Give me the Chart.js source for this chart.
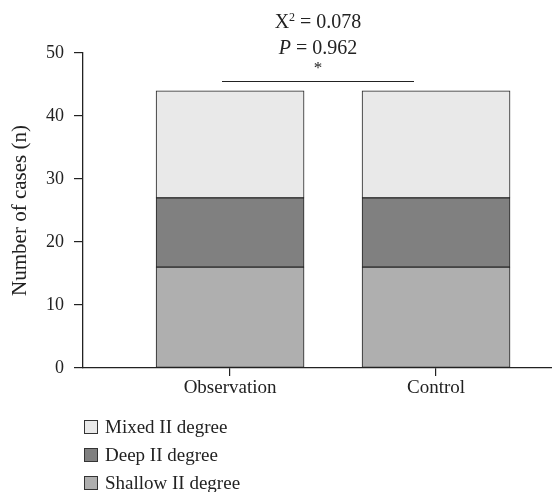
<!DOCTYPE html>
<html>
<head>
<meta charset="utf-8">
<script src="https://cdn.jsdelivr.net/npm/chart.js@4/dist/chart.umd.min.js"></script>
<style>
  body { margin: 0; background: #fff; }
  #wrap { position: relative; width: 552px; height: 492px; }
  #legend { position: absolute; left: 84px; top: 413px; font-family: "Liberation Serif", "DejaVu Serif", serif; font-size: 19px; color: #222; }
  .item { height: 28px; line-height: 28px; white-space: nowrap; }
  .box { display: inline-block; width: 12px; height: 12px; border: 1px solid #333; margin-right: 7px; vertical-align: -1px; }
</style>
</head>
<body>
<div id="wrap">
  <canvas id="myChart" width="552" height="492"></canvas>
  <div id="legend"></div>
</div>
<script>
// data
var groups = ['Observation', 'Control'];
var groupPos = [1, 2];
var shallow = [16, 16];
var deep = [11, 11];
var mixed = [17, 17];
var seriesNames = ['Shallow II degree', 'Deep II degree', 'Mixed II degree'];
var seriesColors = ['#afafaf', '#808080', '#e9e9e9'];
var yTicks = [0, 10, 20, 30, 40, 50];
var statLines = ['0.078', '0.962'];

var serif = '"Liberation Serif", "DejaVu Serif", serif';

function pts(vals) {
    return vals.map(function (v, i) { return { x: groupPos[i], y: v }; });
}

var statsPlugin = {
    id: 'stats',
    afterDraw: function (chart) {
        var c = chart.ctx;
        var cx = 318;
        c.save();
        c.fillStyle = '#222';
        c.textBaseline = 'alphabetic';
        c.textAlign = 'left';
        // X^2 = 0.078
        var a = 'X', b = ' = ' + statLines[0];
        c.font = '12px ' + serif;
        var w2 = c.measureText('2').width;
        c.font = '20px ' + serif;
        var total = c.measureText(a).width + w2 + c.measureText(b).width;
        var x0 = cx - total / 2;
        c.fillText(a, x0, 28);
        x0 += c.measureText(a).width;
        c.font = '12px ' + serif;
        c.fillText('2', x0, 21);
        x0 += w2;
        c.font = '20px ' + serif;
        c.fillText(b, x0, 28);
        // P = 0.962
        c.font = 'italic 20px ' + serif;
        var p = 'P';
        var rest = ' = ' + statLines[1];
        var wp = c.measureText(p).width;
        c.font = '20px ' + serif;
        var wr = c.measureText(rest).width;
        x0 = cx - (wp + wr) / 2;
        c.font = 'italic 20px ' + serif;
        c.fillText(p, x0, 54);
        c.font = '20px ' + serif;
        c.fillText(rest, x0 + wp, 54);
        // star
        c.textAlign = 'center';
        c.font = '17px ' + serif;
        c.fillText('*', cx, 73);
        // bracket line
        c.strokeStyle = '#222';
        c.lineWidth = 1.2;
        c.beginPath();
        c.moveTo(222, 81.5);
        c.lineTo(414, 81.5);
        c.stroke();
        c.restore();
    }
};

window.onload = function () {
    var ctx = document.getElementById('myChart').getContext('2d');
    var data = [shallow, deep, mixed];
    var datasets = data.map(function (d, i) {
        return {
            label: seriesNames[i],
            data: pts(d),
            backgroundColor: seriesColors[i],
            borderColor: '#222',
            borderWidth: 1,
            borderSkipped: false,
            barThickness: 148
        };
    });

    new Chart(ctx, {
        type: 'bar',
        data: { datasets: datasets },
        options: {
            responsive: false,
            animation: false,
            devicePixelRatio: 1,
            layout: { padding: { top: 53, left: 0, right: 0, bottom: 0 } },
            plugins: { legend: { display: false }, tooltip: { enabled: false } },
            scales: {
                x: {
                    type: 'linear',
                    stacked: true,
                    offset: false,
                    min: 0.286,
                    max: 2.563,
                    afterBuildTicks: function (s) {
                        s.ticks = groupPos.map(function (v) { return { value: v }; });
                    },
                    afterFit: function (s) { s.height = 124; },
                    ticks: {
                        autoSkip: false,
                        maxRotation: 0,
                        padding: 1,
                        color: '#222',
                        font: { family: serif, size: 19 },
                        callback: function (v) { return groups[groupPos.indexOf(v)]; }
                    },
                    grid: { offset: false, drawOnChartArea: false, drawTicks: true, tickLength: 8, color: '#222', lineWidth: 1.2 },
                    border: { color: '#222', width: 1.3 }
                },
                y: {
                    stacked: true,
                    min: 0,
                    max: 50,
                    afterBuildTicks: function (s) {
                        s.ticks = yTicks.map(function (v) { return { value: v }; });
                    },
                    afterFit: function (s) { s.width = 83; },
                    title: {
                        display: true,
                        text: 'Number of cases (n)',
                        color: '#222',
                        font: { family: serif, size: 21 },
                        padding: { top: 8, bottom: 0 }
                    },
                    ticks: {
                        padding: 10,
                        color: '#222',
                        font: { family: serif, size: 18 }
                    },
                    grid: { drawOnChartArea: false, drawTicks: true, tickLength: 9, color: '#222', lineWidth: 1.2 },
                    border: { color: '#222', width: 1.3 }
                }
            }
        },
        plugins: [statsPlugin]
    });

    var legend = document.getElementById('legend');
    for (var i = seriesNames.length - 1; i >= 0; i--) {
        var row = document.createElement('div');
        row.className = 'item';
        row.innerHTML = '<span class="box" style="background:' + seriesColors[i] + '"></span>' + seriesNames[i];
        legend.appendChild(row);
    }
};
</script>
</body>
</html>
